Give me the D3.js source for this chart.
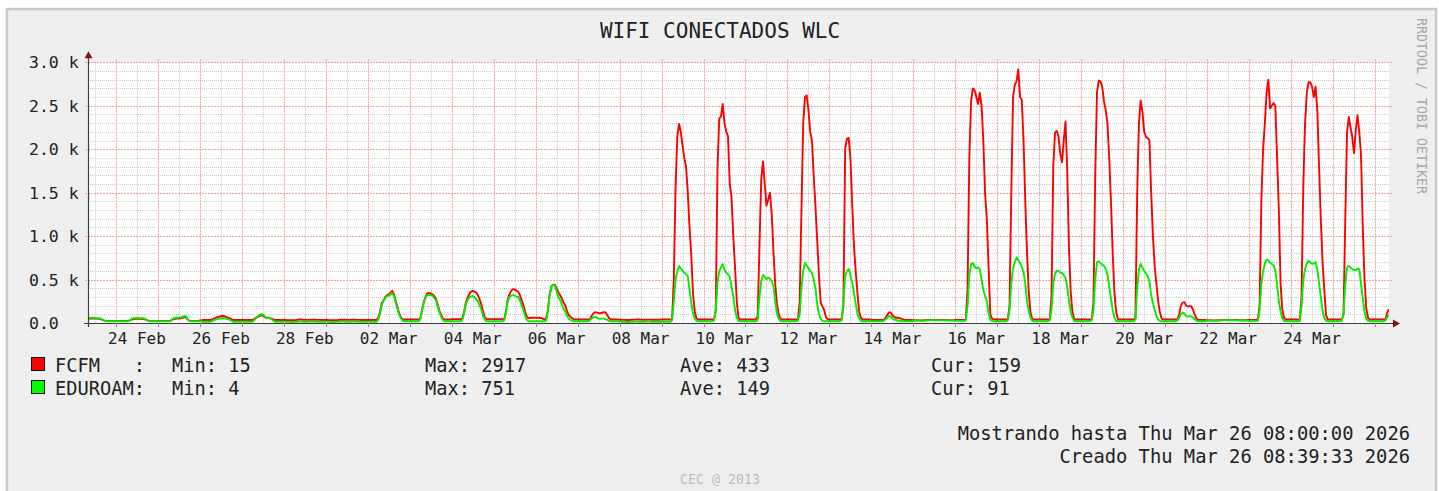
<!DOCTYPE html>
<html>
<head>
<meta charset="utf-8">
<script src="https://cdn.jsdelivr.net/npm/d3@7"></script>
<style>
html,body{margin:0;padding:0;background:#ffffff;}
svg text{font-family:"DejaVu Sans Mono","Liberation Mono",monospace;white-space:pre;}
</style>
</head>
<body>
<svg id="chart" width="1439" height="491"></svg>
<script>
// ---------- DATA ----------
const title = "WIFI CONECTADOS WLC";
const startTime = Date.UTC(2026, 1, 23, 8);   // first sample: Mon Feb 23 08:00
const endTime   = Date.UTC(2026, 2, 26, 8);   // Thu Mar 26 08:00
const stepHours = 1;

// FCFM, hourly samples
const fcfm = [
  /* Feb23 08-23 */ 45,50,50,50,50,50,48,45,40,30,25,25,25,25,25,25,
  /* Feb24 */ 25,25,25,25,25,25,25,25,30,40,45,48,48,48,48,45,45,40,30,25,25,25,25,25,
  /* Feb25 */ 25,25,25,25,25,25,25,25,35,45,48,50,52,55,60,65,65,40,28,25,25,25,25,25,
  /* Feb26 */ 30,32,35,35,35,35,35,40,50,60,68,72,78,80,78,70,62,55,45,35,35,35,35,35,
  /* Feb27 */ 35,35,35,35,35,35,35,45,60,70,80,85,85,70,60,60,55,50,40,35,35,35,35,35,
  /* Feb28 */ 35,34,33,33,32,32,33,35,38,40,40,38,37,36,36,37,38,38,37,36,36,35,35,35,
  /* Mar01 */ 35,34,33,32,32,32,33,34,36,38,38,37,36,36,36,37,37,37,36,36,35,35,35,35,
  /* Mar02 */ 35,35,35,35,35,35,60,130,230,260,300,320,330,350,370,330,250,180,110,60,40,40,40,40,
  /* Mar03 */ 40,40,40,40,40,40,50,150,240,300,340,345,340,330,310,280,210,140,90,50,40,40,40,40,
  /* Mar04 */ 45,45,45,45,45,45,45,120,230,290,330,360,370,360,350,320,270,210,130,60,45,45,45,45,
  /* Mar05 */ 45,45,45,45,45,45,45,130,270,330,370,390,385,370,360,320,260,205,130,70,55,60,60,60,
  /* Mar06 */ 60,60,60,58,50,40,50,150,330,420,440,440,400,350,320,280,230,200,130,90,70,55,40,40,
  /* Mar07 */ 40,40,40,40,40,40,40,40,80,110,125,120,115,112,118,125,122,90,55,40,40,40,40,40,
  /* Mar08 */ 38,37,36,36,35,35,36,37,38,39,40,40,39,38,38,38,39,39,38,38,37,37,38,38,
  /* Mar09 */ 40,40,40,40,40,40,40,500,1550,2150,2290,2200,2040,1900,1800,1500,1100,780,330,130,50,40,40,40,
  /* Mar10 */ 40,40,40,40,40,40,40,150,1800,2350,2380,2520,2300,2200,2150,1600,1450,1000,650,250,60,40,40,40,
  /* Mar11 */ 40,40,40,40,40,40,40,80,900,1650,1860,1600,1350,1420,1500,1250,820,450,220,100,50,40,40,40,
  /* Mar12 */ 40,40,40,40,40,40,40,250,1300,2300,2600,2620,2450,2200,2100,1700,1350,950,550,230,190,150,70,40,
  /* Mar13 */ 40,40,40,40,40,40,40,50,200,2000,2120,2130,1900,1380,900,600,350,130,60,40,40,40,40,40,
  /* Mar14 */ 35,35,35,35,35,35,35,35,60,90,120,120,90,70,60,60,55,50,40,35,35,35,35,35,
  /* Mar15 */ 33,32,31,30,30,30,31,32,34,35,36,36,35,34,34,34,35,35,34,33,33,32,32,33,
  /* Mar16 */ 35,35,35,35,35,35,40,400,1900,2550,2700,2680,2600,2520,2650,2500,2100,1500,1200,650,100,50,40,40,
  /* Mar17 */ 40,40,40,40,40,40,40,200,1500,2600,2740,2780,2917,2600,2570,2100,1400,800,350,120,45,40,40,40,
  /* Mar18 */ 40,40,40,40,40,40,40,300,1800,2190,2210,2150,1950,1850,2100,2320,1750,850,350,120,45,40,40,40,
  /* Mar19 */ 40,40,40,40,40,40,40,250,1700,2650,2790,2780,2720,2550,2450,2300,1900,1400,800,350,120,45,40,40,
  /* Mar20 */ 40,40,40,40,40,40,40,60,1500,2300,2560,2430,2200,2140,2130,2100,1500,1000,650,450,250,120,50,40,
  /* Mar21 */ 40,40,40,40,40,40,40,40,100,200,235,240,200,190,195,190,150,90,50,35,35,35,35,35,
  /* Mar22 */ 33,32,31,30,30,30,31,32,33,34,35,35,34,34,33,33,34,34,33,33,32,32,33,34,
  /* Mar23 */ 35,35,35,35,35,40,200,1400,2000,2300,2650,2800,2470,2500,2530,2500,1900,1300,450,150,60,40,40,40,
  /* Mar24 */ 40,40,40,40,40,40,300,1600,2300,2650,2770,2770,2720,2600,2720,2450,1800,1200,700,380,90,40,40,40,
  /* Mar25 */ 40,40,40,40,40,40,100,1200,2195,2370,2250,2140,1955,2220,2390,2200,1930,1100,500,170,60,40,40,40,
  /* Mar26 00-08 */ 40,40,40,40,40,40,45,120,159
];

// EDUROAM, hourly samples
const eduroam = [
  /* Feb23 08-23 */ 55,58,60,60,58,55,55,52,45,30,20,20,20,20,20,20,
  /* Feb24 */ 20,20,20,20,20,20,20,20,30,50,55,58,58,58,55,55,52,45,30,20,20,20,20,20,
  /* Feb25 */ 20,20,20,20,20,20,20,20,40,55,58,60,62,65,72,80,78,45,22,20,20,20,20,20,
  /* Feb26 */ 20,18,15,15,15,15,15,20,30,40,45,50,52,55,55,50,45,38,25,15,15,15,15,15,
  /* Feb27 */ 15,15,15,15,15,15,15,30,55,75,90,100,98,75,62,60,58,45,25,15,15,15,15,15,
  /* Feb28 */ 15,14,13,13,12,12,13,14,15,16,16,15,15,15,15,16,16,16,15,15,15,14,14,15,
  /* Mar01 */ 15,14,13,12,12,12,13,14,15,16,16,15,15,15,15,16,16,16,15,15,15,15,15,15,
  /* Mar02 */ 15,15,15,15,15,15,40,110,210,250,290,310,315,330,340,310,230,160,90,50,25,20,20,20,
  /* Mar03 */ 20,20,20,20,20,20,40,140,230,290,320,325,320,315,290,260,190,120,70,35,20,20,20,20,
  /* Mar04 */ 20,20,20,20,20,20,30,110,210,260,290,305,310,300,270,250,200,150,80,35,20,20,20,20,
  /* Mar05 */ 20,20,20,20,20,20,30,120,250,300,315,320,315,305,300,260,200,150,80,35,20,20,20,20,
  /* Mar06 */ 20,20,20,20,20,20,30,130,320,420,440,430,360,300,265,210,160,130,80,50,35,25,20,20,
  /* Mar07 */ 20,20,20,20,20,20,20,30,50,65,70,60,50,48,50,50,45,35,25,20,20,20,20,20,
  /* Mar08 */ 15,14,13,13,12,12,13,14,15,16,16,15,15,15,15,16,16,16,15,15,15,14,14,15,
  /* Mar09 */ 15,15,15,15,15,15,30,250,500,600,655,630,600,580,560,540,380,230,110,50,25,20,20,20,
  /* Mar10 */ 20,20,20,20,20,20,30,150,470,600,640,680,610,580,560,530,420,310,160,60,25,20,20,20,
  /* Mar11 */ 20,20,20,20,20,20,20,40,300,480,550,530,505,520,510,480,420,250,110,50,25,20,20,20,
  /* Mar12 */ 20,20,20,20,20,20,30,100,400,600,690,660,630,600,575,500,400,220,100,50,25,20,20,20,
  /* Mar13 */ 20,20,20,20,20,20,20,30,250,530,600,620,550,470,350,230,110,50,25,20,20,20,20,20,
  /* Mar14 */ 20,20,20,20,20,20,20,25,40,60,80,75,55,40,35,30,25,20,20,20,20,20,20,20,
  /* Mar15 */ 28,28,27,27,26,26,27,28,30,32,33,33,32,31,31,30,30,30,29,29,28,28,28,28,
  /* Mar16 */ 25,25,25,25,25,25,30,200,550,680,690,650,630,640,620,500,380,310,260,110,35,25,20,20,
  /* Mar17 */ 20,20,20,20,20,20,30,150,450,630,700,751,720,690,650,590,450,250,140,60,25,20,20,20,
  /* Mar18 */ 20,20,20,20,20,20,30,150,450,570,600,600,580,575,550,520,420,250,130,60,25,20,20,20,
  /* Mar19 */ 20,20,20,20,20,20,30,150,500,700,710,690,670,660,620,560,420,280,150,60,25,20,20,20,
  /* Mar20 */ 20,20,20,20,20,20,20,40,400,620,680,640,600,570,540,480,320,230,150,80,40,25,20,20,
  /* Mar21 */ 20,20,20,20,20,20,20,30,60,100,120,110,80,75,80,75,60,40,25,20,20,20,20,20,
  /* Mar22 */ 28,28,27,27,26,26,27,28,30,32,33,33,32,31,31,30,30,30,29,29,28,28,28,28,
  /* Mar23 */ 25,25,25,25,25,25,150,450,600,680,730,720,690,680,665,600,450,250,130,55,25,20,20,20,
  /* Mar24 */ 20,20,20,20,20,25,200,500,620,690,715,700,680,690,700,620,460,300,140,60,25,20,20,20,
  /* Mar25 */ 20,20,20,20,20,25,100,450,640,660,640,620,610,610,625,620,450,290,130,50,25,20,20,20,
  /* Mar26 00-08 */ 20,20,20,20,20,20,30,70,91
];

const xTickLabels = ["24 Feb","26 Feb","28 Feb","02 Mar","04 Mar","06 Mar","08 Mar","10 Mar",
                     "12 Mar","14 Mar","16 Mar","18 Mar","20 Mar","22 Mar","24 Mar"];
const labelYear = "2026";
const yTickValues = [0, 500, 1000, 1500, 2000, 2500, 3000];
const yTickLabels = ["0.0", "0.5 k", "1.0 k", "1.5 k", "2.0 k", "2.5 k", "3.0 k"];
const yMinorStep = 100;

const seriesNames  = ["FCFM   :", "EDUROAM:"];
const seriesColors = ["#ff0000", "#00ee00"];
const legendColors = ["#ff0000", "#00ff00"];
const statMin = [15, 4];
const statMax = [2917, 751];
const statAve = [433, 149];
const statCur = [159, 91];

const footerLines = ["Mostrando hasta Thu Mar 26 08:00:00 2026", "Creado Thu Mar 26 08:39:33 2026"];
const creditText = "CEC @ 2013";
const sideText = "RRDTOOL / TOBI OETIKER";

// ---------- LAYOUT ----------
const plot = {left: 88, right: 1389, top: 62.3, bottom: 323};

const svg = d3.select("#chart");

// frame / background
svg.append("rect").attr("x", 7).attr("y", 9).attr("width", 1429).attr("height", 492)
  .attr("fill", "#efefef").attr("stroke", "#c9c9c9").attr("stroke-width", 2.5);

// canvas
svg.append("rect").attr("x", plot.left).attr("y", plot.top)
  .attr("width", plot.right - plot.left).attr("height", plot.bottom - plot.top)
  .attr("fill", "#ffffff");

const x = d3.scaleUtc().domain([startTime, endTime]).range([plot.left, plot.right]);
const y = d3.scaleLinear().domain([0, 3000]).range([plot.bottom, plot.top]);

const grid = svg.append("g");

const minorX = d3.utcHour.every(12).range(new Date(startTime), new Date(endTime + 1))
  .filter(d => d.getUTCHours() !== 0);
const majorX = d3.utcDay.range(new Date(startTime), new Date(endTime + 1));
const minorY = d3.range(yMinorStep, 3000 + 1, yMinorStep).filter(v => v % 500 !== 0);
const majorY = yTickValues.filter(v => v > 0);

const minorColor = "#cccccc", majorColor = "#f4a2a2";

grid.selectAll("line.mx").data(minorX).join("line")
  .attr("x1", d => Math.round(x(d)) + 0.5).attr("x2", d => Math.round(x(d)) + 0.5)
  .attr("y1", plot.top).attr("y2", plot.bottom)
  .attr("stroke", minorColor).attr("stroke-width", 1).attr("stroke-dasharray", "1,1");
grid.selectAll("line.my").data(minorY).join("line")
  .attr("x1", plot.left).attr("x2", plot.right)
  .attr("y1", d => Math.round(y(d)) + 0.5).attr("y2", d => Math.round(y(d)) + 0.5)
  .attr("stroke", minorColor).attr("stroke-width", 1).attr("stroke-dasharray", "1,1");
grid.selectAll("line.Mx").data(majorX).join("line")
  .attr("x1", d => Math.round(x(d)) + 0.5).attr("x2", d => Math.round(x(d)) + 0.5)
  .attr("y1", plot.top - 3).attr("y2", plot.bottom + 3)
  .attr("stroke", majorColor).attr("stroke-width", 1).attr("stroke-dasharray", "2,1");
grid.selectAll("line.My").data(majorY).join("line")
  .attr("x1", plot.left - 3).attr("x2", plot.right + 3)
  .attr("y1", d => Math.round(y(d)) + 0.5).attr("y2", d => Math.round(y(d)) + 0.5)
  .attr("stroke", majorColor).attr("stroke-width", 1).attr("stroke-dasharray", "2,1");

// series lines
const toPoints = arr => arr.map((v, i) => ({t: startTime + i * stepHours * 3600000, v}));
const line = d3.line().x(d => x(d.t)).y(d => y(d.v)).curve(d3.curveLinear);
svg.append("clipPath").attr("id", "clip").append("rect")
  .attr("x", plot.left).attr("y", plot.top - 10).attr("width", plot.right - plot.left).attr("height", plot.bottom - plot.top + 10);
const lines = svg.append("g").attr("clip-path", "url(#clip)");
[fcfm, eduroam].forEach((arr, i) => {
  lines.append("path").datum(toPoints(arr)).attr("d", line)
    .attr("fill", "none").attr("stroke", seriesColors[i]).attr("stroke-width", 1.9)
    .attr("stroke-linejoin", "round");
});

// axes
const axisColor = "#3c3c3c", arrowColor = "#8b1010";
svg.append("line").attr("x1", plot.left - 4).attr("x2", plot.right + 5)
  .attr("y1", plot.bottom + 0.5).attr("y2", plot.bottom + 0.5)
  .attr("stroke", axisColor).attr("stroke-width", 1.2);
svg.append("line").attr("x1", plot.left + 0.5).attr("x2", plot.left + 0.5)
  .attr("y1", plot.bottom + 4).attr("y2", plot.top - 6)
  .attr("stroke", axisColor).attr("stroke-width", 1.2);
svg.append("path")
  .attr("d", `M${plot.right + 4},${plot.bottom - 3.5} L${plot.right + 11},${plot.bottom + 0.5} L${plot.right + 4},${plot.bottom + 4.5} Z`)
  .attr("fill", arrowColor);
svg.append("path")
  .attr("d", `M${plot.left - 3.5},${plot.top - 4} L${plot.left + 0.5},${plot.top - 11} L${plot.left + 4.5},${plot.top - 4} Z`)
  .attr("fill", arrowColor);

// tick marks on x axis
svg.append("g").selectAll("line").data(majorX).join("line")
  .attr("x1", d => Math.round(x(d)) + 0.5).attr("x2", d => Math.round(x(d)) + 0.5)
  .attr("y1", plot.bottom).attr("y2", plot.bottom + 4)
  .attr("stroke", "#888").attr("stroke-width", 1);

// y labels
svg.append("g").selectAll("text").data(yTickValues).join("text")
  .attr("x", 29).attr("y", d => y(d) + 6)
  .attr("font-size", "16.5px").attr("fill", "#222")
  .text((d, i) => yTickLabels[i]);

// x labels (centered at noon of the labelled day)
const parseLabel = d3.utcParse("%d %b %Y");
svg.append("g").selectAll("text").data(xTickLabels).join("text")
  .attr("x", d => x(+parseLabel(d + " " + labelYear) + 12 * 3600000))
  .attr("y", 344)
  .attr("text-anchor", "middle")
  .attr("font-size", "16px").attr("fill", "#222")
  .text(d => d);

// title
svg.append("text").attr("x", 720).attr("y", 38).attr("text-anchor", "middle")
  .attr("font-size", "21px").attr("fill", "#222").text(title);

// side credit
svg.append("text").attr("transform", "translate(1417,106) rotate(90)")
  .attr("text-anchor", "middle").attr("font-size", "13.3px").attr("fill", "#a8a8a8")
  .text(sideText);

// legend
const legendY = [372, 395];
const lg = svg.append("g").attr("font-size", "18.7px").attr("fill", "#222");
seriesNames.forEach((name, i) => {
  lg.append("rect").attr("x", 31.5).attr("y", legendY[i] - 14.5).attr("width", 13).attr("height", 13)
    .attr("fill", legendColors[i]).attr("stroke", "#111").attr("stroke-width", 1);
  lg.append("text").attr("x", 55).attr("y", legendY[i]).text(name);
  lg.append("text").attr("x", 172).attr("y", legendY[i]).text("Min: " + statMin[i]);
  lg.append("text").attr("x", 425).attr("y", legendY[i]).text("Max: " + statMax[i]);
  lg.append("text").attr("x", 680).attr("y", legendY[i]).text("Ave: " + statAve[i]);
  lg.append("text").attr("x", 931).attr("y", legendY[i]).text("Cur: " + statCur[i]);
});

// footer
svg.append("g").selectAll("text").data(footerLines).join("text")
  .attr("x", 1410).attr("y", (d, i) => 440 + i * 23)
  .attr("text-anchor", "end").attr("font-size", "18.8px").attr("fill", "#222")
  .text(d => d);

svg.append("text").attr("x", 720).attr("y", 484).attr("text-anchor", "middle")
  .attr("font-size", "13.3px").attr("fill", "#bdbdbd").text(creditText);
</script>
</body>
</html>
